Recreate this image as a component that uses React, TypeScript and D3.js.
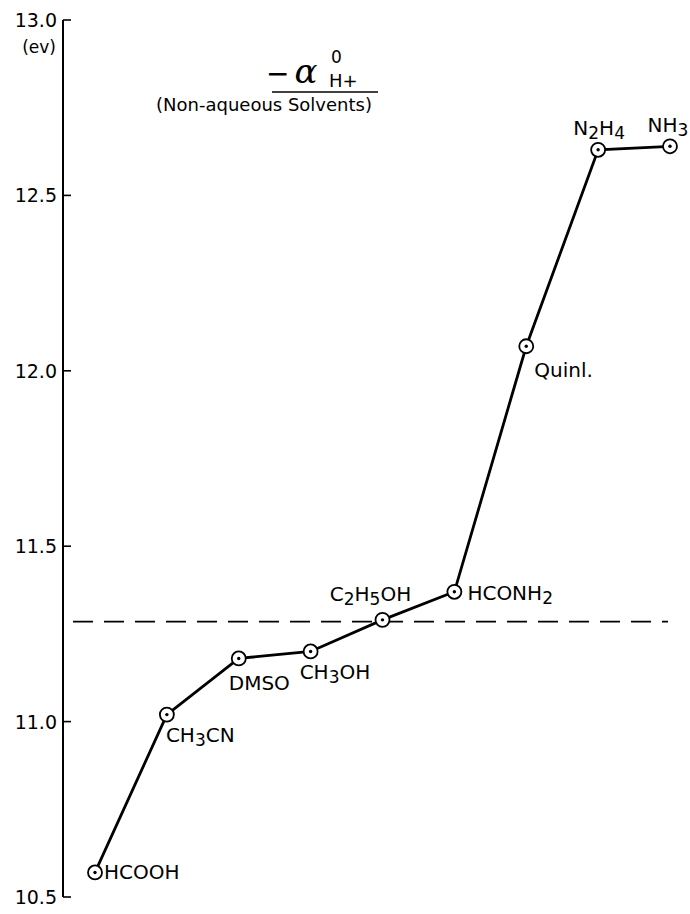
import React from "react";
import * as d3 from "d3";

const solvents = ["HCOOH", "CH3CN", "DMSO", "CH3OH", "C2H5OH", "HCONH2", "Quinl.", "N2H4", "NH3"];
const values = [10.57, 11.02, 11.18, 11.2, 11.29, 11.37, 12.07, 12.63, 12.64];
const yTicks = [10.5, 11.0, 11.5, 12.0, 12.5, 13.0];
const referenceLevel = 11.285;
const yUnit = "(ev)";
const subtitle = "(Non-aqueous Solvents)";

// label layout: dx, dy, anchor
const labelLayout: [number, number, string][] = [
  [9, 7, "start"],
  [-1, 27, "start"],
  [-10, 32, "start"],
  [-11, 28, "start"],
  [-12, -19, "middle"],
  [13, 8, "start"],
  [8, 31, "start"],
  [1, -15, "middle"],
  [-2, -14, "middle"],
];

const W = 690;
const H = 914;
const FONT = "'DejaVu Sans', sans-serif";

function Formula({ name }: { name: string }) {
  if (name === "Quinl.") return <>{name}</>;
  const parts = name.split(/(\d)/).filter((p) => p !== "");
  return (
    <>
      {parts.map((p, i) =>
        /\d/.test(p) ? (
          <tspan key={i} fontSize="17" dy="4">{p}</tspan>
        ) : (
          <tspan key={i} dy={i > 0 && /\d/.test(parts[i - 1]) ? -4 : 0}>{p}</tspan>
        )
      )}
    </>
  );
}

export default function App() {
  const x = d3.scalePoint<string>().domain(solvents).range([95, 670]);
  const y = d3.scaleLinear().domain([10.5, 13]).range([897, 20]);
  const axisX = 63;
  const pts = solvents.map((s, i) => [x(s) as number, y(values[i])] as [number, number]);
  const line = d3.line()(pts) as string;

  return (
    <svg width={W} height={H} style={{ position: "absolute", left: 0, top: 0, background: "#fff" }} fontFamily={FONT}>
      {/* axis */}
      <line x1={axisX} x2={axisX} y1={y(13)} y2={y(10.5)} stroke="#000" strokeWidth={2} />
      {yTicks.map((t) => (
        <g key={t}>
          <line x1={axisX} x2={axisX + 8} y1={y(t)} y2={y(t)} stroke="#000" strokeWidth={1.6} />
          <text x={axisX - 6} y={y(t) + 7} textAnchor="end" fontSize={19}>
            {t.toFixed(1)}
          </text>
        </g>
      ))}
      <text x={axisX - 7} y={y(13) + 33} textAnchor="end" fontSize={17}>{yUnit}</text>

      {/* title */}
      <text x={266} y={83} fontSize={34} fontStyle="italic" fontFamily="'DejaVu Serif', serif">
        <tspan fontStyle="normal" fontFamily={FONT} fontSize={28}>−</tspan>
        <tspan dx={5}>α</tspan>
      </text>
      <text x={331} y={63} fontSize={17}>0</text>
      <text x={329} y={87} fontSize={18}>H+</text>
      <line x1={272} x2={378} y1={92} y2={92} stroke="#000" strokeWidth={1.6} />
      <text x={264} y={111} textAnchor="middle" fontSize={18}>{subtitle}</text>

      {/* reference dashed line */}
      <line x1={axisX + 10} x2={668} y1={y(referenceLevel)} y2={y(referenceLevel)} stroke="#000" strokeWidth={1.6} strokeDasharray="20 11" />

      {/* data line */}
      <path d={line} fill="none" stroke="#000" strokeWidth={2.8} />
      {pts.map(([px, py], i) => (
        <g key={solvents[i]}>
          <circle cx={px} cy={py} r={7} fill="#fff" stroke="#000" strokeWidth={1.8} />
          <circle cx={px} cy={py} r={1.7} fill="#000" />
          <text x={px + labelLayout[i][0]} y={py + labelLayout[i][1]} textAnchor={labelLayout[i][2]} fontSize={20}>
            <Formula name={solvents[i]} />
          </text>
        </g>
      ))}
    </svg>
  );
}
